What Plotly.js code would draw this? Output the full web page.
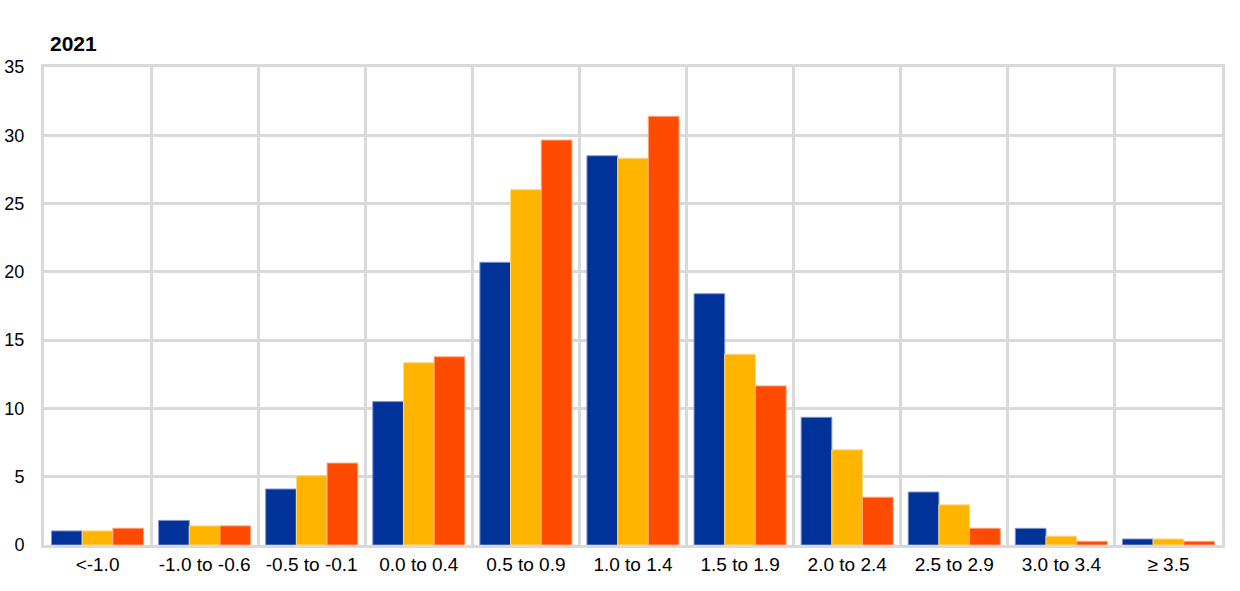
<!DOCTYPE html>
<html>
<head>
<meta charset="utf-8">
<script src="https://cdn.plot.ly/plotly-3.0.1.min.js"></script>
<style>html,body{margin:0;padding:0;background:#fff;}#chart{width:1240px;height:591px;}</style>
</head>
<body>
<div id="chart"></div>
<script>
const categories = ["<-1.0", "-1.0 to -0.6", "-0.5 to -0.1", "0.0 to 0.4", "0.5 to 0.9", "1.0 to 1.4", "1.5 to 1.9", "2.0 to 2.4", "2.5 to 2.9", "3.0 to 3.4", "≥ 3.5"];
const series1 = [1.03, 1.8, 4.1, 10.5, 20.7, 28.5, 18.4, 9.35, 3.88, 1.22, 0.44];
const series2 = [1.03, 1.4, 5.07, 13.35, 26.02, 28.32, 13.97, 6.97, 2.94, 0.65, 0.44];
const series3 = [1.23, 1.4, 6.0, 13.78, 29.65, 31.39, 11.65, 3.5, 1.23, 0.27, 0.27];
const seriesNames = ["Series 1", "Series 2", "Series 3"];
const colors = ["#003299", "#FFB400", "#FF4B00"];
const edgeColors = ["#8097cc", "#ffd980", "#ffa580"];

const allSeries = [series1, series2, series3];
const traces = allSeries.map((vals, i) => ({
  type: "bar",
  x: categories,
  y: vals,
  name: seriesNames[i],
  marker: {color: colors[i], line: {color: edgeColors[i], width: 1}},
  hoverinfo: "x+y"
}));

const grid = "#d9d9d9";
const layout = {
  width: 1240, height: 591,
  margin: {l: 44, r: 18, t: 67, b: 46},
  paper_bgcolor: "#ffffff", plot_bgcolor: "#ffffff",
  font: {family: "Liberation Sans, Arial, sans-serif", size: 18, color: "#000000"},
  showlegend: false,
  barmode: "group",
  bargap: 0.14,
  bargroupgap: 0,
  title: {
    text: "<b>2021</b>",
    font: {size: 21, color: "#000000"},
    xref: "container", yref: "container",
    x: 50/1240, xanchor: "left",
    y: 1 - 44/591, yanchor: "middle"
  },
  xaxis: {
    type: "category",
    tickson: "boundaries",
    showgrid: true, gridcolor: grid, gridwidth: 3,
    showline: true, linecolor: grid, linewidth: 3, mirror: true,
    ticks: "outside", ticklen: 20, tickcolor: "rgba(0,0,0,0)",
    tickfont: {size: 19},
    range: [-0.5, 10.5]
  },
  yaxis: {
    range: [0, 35],
    dtick: 5,
    showgrid: true, gridcolor: grid, gridwidth: 3,
    zeroline: false,
    showline: true, linecolor: grid, linewidth: 3, mirror: true,
    ticks: "outside", ticklen: 13, tickcolor: "rgba(0,0,0,0)",
    tickfont: {size: 18}
  }
};

Plotly.newPlot("chart", traces, layout, {displayModeBar: false, staticPlot: true});
</script>
</body>
</html>
